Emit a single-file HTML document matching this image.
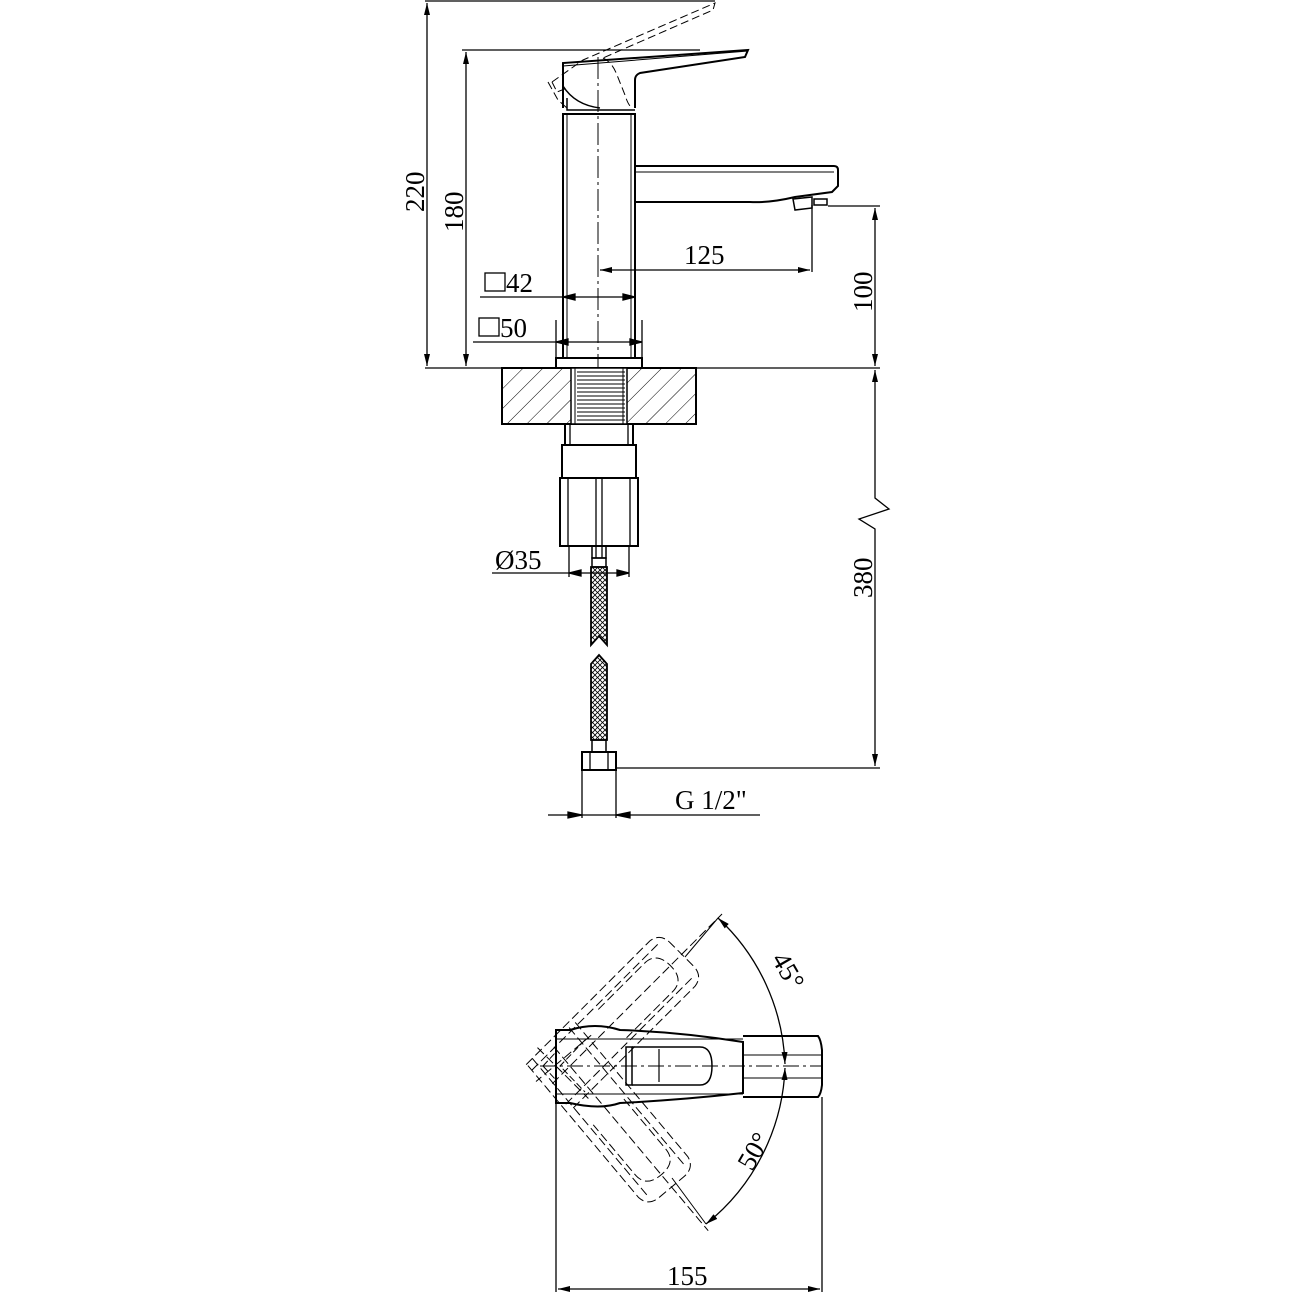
<!DOCTYPE html>
<html><head><meta charset="utf-8"><style>
html,body{margin:0;padding:0;background:#fff}
svg{display:block}
text{font-family:"Liberation Serif",serif;font-size:27px;fill:#000}
</style></head><body>
<svg width="1292" height="1292" viewBox="0 0 1292 1292" xmlns="http://www.w3.org/2000/svg">
<defs>
<pattern id="h" patternUnits="userSpaceOnUse" width="14" height="14" patternTransform="rotate(45)">
<line x1="0" y1="0" x2="0" y2="14" stroke="#000" stroke-width="1"/>
</pattern>
<pattern id="b" patternUnits="userSpaceOnUse" width="5" height="5">
<path d="M0,0 L2.5,2.5 L5,0 M0,5 L2.5,2.5 L5,5" stroke="#000" stroke-width="0.8" fill="none"/>
</pattern>
<marker id="a" viewBox="0 0 12 6" refX="12" refY="3" markerWidth="12" markerHeight="6" orient="auto-start-reverse" markerUnits="userSpaceOnUse">
<path d="M0,0 L12,3 L0,6 z" fill="#000"/>
</marker>
</defs>
<g fill="none" stroke="#000" stroke-width="1.3">
<line x1="425" y1="1" x2="715" y2="1"/>
<line x1="427" y1="3" x2="427" y2="366" marker-start="url(#a)" marker-end="url(#a)"/>
<line x1="462" y1="50" x2="700" y2="50"/>
<line x1="466" y1="52" x2="466" y2="366" marker-start="url(#a)" marker-end="url(#a)"/>
<line x1="425" y1="368" x2="880" y2="368"/>
<path d="M563,108 L563,63 L748,50 L745,57 L640,73 Q635,75 635,80 L635,108" stroke-width="2"/>
<path d="M563,66 L748,51" stroke-width="1"/>
<path d="M563,86 Q575,105 600,108" stroke-width="1.5"/>
<path d="M567,98 L567,110 L635,110" stroke-width="1.5"/>
<path d="M552,82 L583,60 L715,3 L713,10 L603,58 M548,82 L558,100 L567,108 M552,82 L557,92 L567,88 M603,58 Q612,62 617,75 L625,95 Q628,105 632,108" stroke-dasharray="8,4" stroke-width="1"/>
<rect x="563" y="114" width="72" height="244" stroke-width="2"/>
<line x1="567" y1="114" x2="567" y2="358" stroke-width="1"/>
<line x1="631" y1="114" x2="631" y2="358" stroke-width="1"/>
<rect x="556" y="358" width="86" height="10" stroke-width="2"/>
<path d="M635,166 L834,166 Q838,166 838,170 L838,186 L832,192 L795,197 Q770,203 750,202 L635,202" stroke-width="2"/>
<line x1="635" y1="172" x2="834" y2="172" stroke-width="1"/>
<path d="M793,199 L812,197 L812,208 L795,210 Z" stroke-width="1.5"/>
<rect x="814" y="199" width="13" height="6" stroke-width="1.5"/>
<line x1="598" y1="57" x2="598" y2="368" stroke-dasharray="22,4,3,4" stroke-width="1"/>
<line x1="812" y1="205" x2="812" y2="272"/>
<line x1="600" y1="270" x2="810" y2="270" marker-start="url(#a)" marker-end="url(#a)"/>
<line x1="828" y1="206" x2="880" y2="206"/>
<line x1="875" y1="208" x2="875" y2="366" marker-start="url(#a)" marker-end="url(#a)"/>
<path d="M875,370 L875,498 L889,509 L859,519 L875,529 L875,766" marker-start="url(#a)" marker-end="url(#a)"/>
<line x1="480" y1="297" x2="635" y2="297"/>
<path d="M563,297 l12,-3 v6 z M635,297 l-12,-3 v6 z" fill="#000"/>
<line x1="473" y1="342" x2="642" y2="342"/>
<line x1="556" y1="320" x2="556" y2="358"/><line x1="642" y1="320" x2="642" y2="358"/>
<path d="M556,342 l12,-3 v6 z M642,342 l-12,-3 v6 z" fill="#000"/>
<rect x="502" y="368" width="194" height="56" fill="url(#h)" stroke-width="2"/>
<rect x="571" y="368" width="56" height="56" fill="#fff" stroke-width="1.5"/>
<g stroke-width="1">
<line x1="577" y1="372" x2="625" y2="372"/><line x1="577" y1="376" x2="625" y2="376"/><line x1="577" y1="380" x2="625" y2="380"/><line x1="577" y1="384" x2="625" y2="384"/><line x1="577" y1="388" x2="625" y2="388"/><line x1="577" y1="392" x2="625" y2="392"/><line x1="577" y1="396" x2="625" y2="396"/><line x1="577" y1="400" x2="625" y2="400"/><line x1="577" y1="404" x2="625" y2="404"/><line x1="577" y1="408" x2="625" y2="408"/><line x1="577" y1="412" x2="625" y2="412"/><line x1="577" y1="416" x2="625" y2="416"/><line x1="577" y1="420" x2="625" y2="420"/>
<line x1="575" y1="368" x2="575" y2="424"/><line x1="623" y1="368" x2="623" y2="424"/>
</g>
<line x1="565" y1="424" x2="565" y2="445" stroke-width="2"/><line x1="633" y1="424" x2="633" y2="445" stroke-width="2"/>
<line x1="570" y1="424" x2="570" y2="445"/><line x1="628" y1="424" x2="628" y2="445"/>
<rect x="562" y="445" width="74" height="33" stroke-width="2"/>
<rect x="560" y="478" width="78" height="68" stroke-width="2"/>
<line x1="568" y1="478" x2="568" y2="546"/><line x1="630" y1="478" x2="630" y2="546"/>
<line x1="596" y1="478" x2="596" y2="546"/><line x1="602" y1="478" x2="602" y2="546"/>
<line x1="569" y1="546" x2="569" y2="577"/><line x1="629" y1="546" x2="629" y2="577"/>
<line x1="492" y1="573" x2="629" y2="573"/>
<path d="M569,573 l12,-3 v6 z M629,573 l-12,-3 v6 z" fill="#000"/>
<rect x="592" y="546" width="14" height="12" stroke-width="1.5"/>
<line x1="596" y1="546" x2="596" y2="558"/><line x1="602" y1="546" x2="602" y2="558"/>
<rect x="592" y="558" width="14" height="9" stroke-width="1.5"/>
<path d="M591,567 L591,645 L599,636 L607,645 L607,567 Z" fill="url(#b)" stroke-width="1.8"/>
<path d="M591,740 L591,664 L599,655 L607,664 L607,740 Z" fill="url(#b)" stroke-width="1.8"/>
<rect x="592" y="740" width="14" height="12" stroke-width="1.5"/>
<rect x="582" y="752" width="34" height="18" stroke-width="2"/>
<line x1="590" y1="752" x2="590" y2="770"/><line x1="608" y1="752" x2="608" y2="770"/>
<line x1="616" y1="768" x2="880" y2="768"/>
<line x1="582" y1="770" x2="582" y2="818"/><line x1="616" y1="770" x2="616" y2="818"/>
<line x1="548" y1="815" x2="760" y2="815"/>
<path d="M582,815 l-14,-3 v6 z M616,815 l14,-3 v6 z" fill="#000"/>

<line x1="556" y1="1030" x2="556" y2="1292"/>
<line x1="822" y1="1097" x2="822" y2="1292"/>
<line x1="558" y1="1289" x2="820" y2="1289" marker-start="url(#a)" marker-end="url(#a)"/>
<path d="M556,1030 L556,1103 L570,1103 Q600,1110 620,1103 Q680,1100 743,1093 L743,1042 Q680,1032 620,1030 Q595,1022 570,1030 Z" stroke-width="2"/>
<path d="M743,1036 L818,1036 Q821,1040 822,1050 L822,1085 Q821,1094 818,1097 L743,1097" stroke-width="2"/>
<line x1="556" y1="1039" x2="743" y2="1039" stroke-width="1"/>
<line x1="556" y1="1094" x2="743" y2="1094" stroke-width="1"/>
<line x1="743" y1="1055" x2="822" y2="1055" stroke-width="1"/>
<line x1="743" y1="1078" x2="822" y2="1078" stroke-width="1"/>
<rect x="626" y="1047" width="6" height="38" stroke-width="1.5"/>
<path d="M632,1047 L700,1047 Q712,1047 712,1066 Q712,1085 700,1085 L632,1085" stroke-width="1.5"/>
<line x1="659" y1="1049" x2="659" y2="1082" stroke-width="1.2"/>
<line x1="540" y1="1066" x2="822" y2="1066" stroke-dasharray="16,4,3,4" stroke-width="1"/>
<path d="M543,1066 L556,1052 M543,1066 L556,1080 M585,1040 L560,1066 L585,1092" stroke-dasharray="7,3" stroke-width="1"/>
<g stroke-dasharray="9,4" stroke-width="1">
<g transform="rotate(-45 570 1066)">
<path d="M540,1034 L715,1034 Q728,1036 728,1050 L728,1082 Q728,1096 715,1098 L540,1098"/>
<path d="M630,1046 L695,1046 Q712,1046 712,1066 Q712,1086 695,1086 L630,1086"/>
<line x1="540" y1="1042" x2="722" y2="1042"/><line x1="540" y1="1090" x2="722" y2="1090"/>
<line x1="545" y1="1066" x2="785" y2="1066"/>
<path d="M560,1030 L560,1102"/>
</g>
<g transform="rotate(50 570 1066)">
<path d="M540,1034 L715,1034 Q728,1036 728,1050 L728,1082 Q728,1096 715,1098 L540,1098"/>
<path d="M630,1046 L695,1046 Q712,1046 712,1066 Q712,1086 695,1086 L630,1086"/>
<line x1="540" y1="1042" x2="722" y2="1042"/><line x1="540" y1="1090" x2="722" y2="1090"/>
<line x1="545" y1="1066" x2="785" y2="1066"/>
<path d="M560,1030 L560,1102"/>
</g>
</g>
<line x1="685" y1="957" x2="718" y2="918" stroke-width="1"/>
<line x1="672" y1="1178" x2="706" y2="1224" stroke-width="1"/>
<path d="M718,918 A210,210 0 0 1 785,1064" marker-start="url(#a)" marker-end="url(#a)"/>
<path d="M785,1068 A210,210 0 0 1 706,1224" marker-start="url(#a)" marker-end="url(#a)"/>
</g>
<text x="0" y="0" transform="translate(424,212) rotate(-90)">220</text>
<text x="0" y="0" transform="translate(463,232) rotate(-90)">180</text>
<text x="684" y="264">125</text>
<text x="0" y="0" transform="translate(872,312) rotate(-90)">100</text>
<text x="0" y="0" transform="translate(872,598) rotate(-90)">380</text>
<rect x="485" y="273" width="20" height="18" fill="none" stroke="#000" stroke-width="1.3"/>
<text x="506" y="292">42</text>
<rect x="479" y="318" width="20" height="18" fill="none" stroke="#000" stroke-width="1.3"/>
<text x="500" y="337">50</text>
<text x="495" y="569">Ø35</text>
<text x="675" y="809">G 1/2"</text>
<text x="667" y="1285">155</text>
<text x="0" y="0" transform="translate(771,959) rotate(60)">45°</text>
<text x="0" y="0" transform="translate(752,1172) rotate(-60)">50°</text>
</svg>
</body></html>
